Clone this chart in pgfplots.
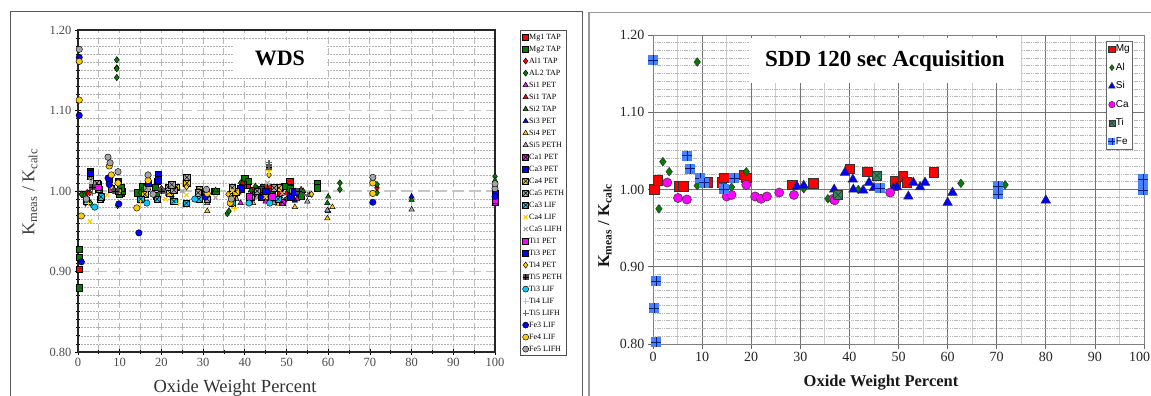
\documentclass[border=0pt]{standalone}
\usepackage{pgfplots}
\pgfplotsset{compat=1.18}
\usepackage{fontspec}
\setmainfont{Liberation Serif}
\newfontfamily\arialfont{Liberation Sans}
\usetikzlibrary{plotmarks}

\definecolor{wred}{RGB}{255,0,0}
\definecolor{wgreen}{RGB}{0,128,0}
\definecolor{wmag}{RGB}{255,0,255}
\definecolor{wblue}{RGB}{0,0,255}
\definecolor{wyel}{RGB}{255,204,0}
\definecolor{wgray}{RGB}{165,165,165}
\definecolor{wcyan}{RGB}{0,204,255}
\definecolor{titeal}{RGB}{46,139,87}
\definecolor{feblue}{RGB}{70,130,255}
\definecolor{fedark}{RGB}{0,30,120}

\pgfdeclareplotmark{sqx}{%
  \pgfpathrectangle{\pgfqpoint{-\pgfplotmarksize}{-\pgfplotmarksize}}{\pgfqpoint{2\pgfplotmarksize}{2\pgfplotmarksize}}%
  \pgfusepathqfillstroke
  \pgfpathmoveto{\pgfqpoint{-\pgfplotmarksize}{-\pgfplotmarksize}}%
  \pgfpathlineto{\pgfqpoint{\pgfplotmarksize}{\pgfplotmarksize}}%
  \pgfpathmoveto{\pgfqpoint{-\pgfplotmarksize}{\pgfplotmarksize}}%
  \pgfpathlineto{\pgfqpoint{\pgfplotmarksize}{-\pgfplotmarksize}}%
  \pgfusepathqstroke}
\pgfdeclareplotmark{sqplus}{%
  \pgfpathrectangle{\pgfqpoint{-\pgfplotmarksize}{-\pgfplotmarksize}}{\pgfqpoint{2\pgfplotmarksize}{2\pgfplotmarksize}}%
  \pgfusepathqfill
  \pgfpathmoveto{\pgfqpoint{-\pgfplotmarksize}{0pt}}%
  \pgfpathlineto{\pgfqpoint{\pgfplotmarksize}{0pt}}%
  \pgfpathmoveto{\pgfqpoint{0pt}{-\pgfplotmarksize}}%
  \pgfpathlineto{\pgfqpoint{0pt}{\pgfplotmarksize}}%
  \pgfusepathqstroke}

\pgfplotsset{
  wds/.style 2 args={only marks, mark=#1, mark size=3.2pt, mark options={solid, fill=#2, draw=black, line width=0.45pt}},
  wdsl/.style 2 args={only marks, mark=#1, mark size=3pt, mark options={solid, draw=#2, line width=1.1pt}},
  sdd/.style n args={3}{only marks, mark=#1, mark size=#3, mark options={solid, fill=#2, draw=black!80, line width=0.5pt}},
}

\begin{document}
\begin{tikzpicture}
\useasboundingbox (0pt,0pt) rectangle (1151pt,396pt);
\fill[white] (0pt,0pt) rectangle (1151pt,396pt);
% panel frames
\draw[black!65, line width=0.8pt] (10pt,-5pt) -- (10pt,385pt) -- (582pt,385pt) -- (582pt,-5pt);
\draw[black!40, line width=0.8pt] (589pt,384pt) -- (1160pt,384pt);
\draw[black!40, line width=2.2pt] (589pt,-5pt) -- (589pt,384pt);

% ---------------- LEFT: WDS ----------------
\begin{axis}[
  at={(78pt,44pt)}, anchor=south west, scale only axis, width=417pt, height=322pt,
  xmin=0, xmax=100, ymin=0.8, ymax=1.2,
  xtick={0,10,...,100}, ytick={0.8,0.9,1.0,1.1,1.2},
  minor x tick num=1, minor y tick num=9,
  grid=both,
  major x grid style={gray!55, line width=1pt, dash pattern=on 7pt off 4pt},
  minor x grid style={gray!55, line width=1pt, dash pattern=on 7pt off 4pt},
  major y grid style={gray!45, line width=1.6pt, dash pattern=on 12pt off 5pt},
  minor y grid style={gray!60, line width=0.7pt, dash pattern=on 1.5pt off 1.5pt},
  axis line style={black!85, line width=1.3pt},
  tick align=center, xtick pos=bottom, ytick pos=left,
  major tick length=6pt, minor tick length=4pt, tick style={black, line width=0.8pt},
  /pgf/number format/assume math mode=true,
  tick label style={font=\fontsize{12.5}{13}\selectfont, text=black!70},
  y tick label style={/pgf/number format/.cd, fixed, fixed zerofill, precision=2},
  legend cell align=left,
  legend style={at={(1.06,1)}, anchor=north west, draw=black!70, line width=1.2pt, fill=white,
    font=\fontsize{8}{9}\selectfont, inner sep=2pt, row sep=3pt,
    nodes={inner sep=0.5pt, text height=6pt, text depth=2pt}},
  legend image post style={scale=0.95},
]
\node[fill=white, minimum width=92pt, minimum height=37pt, font=\bfseries\fontsize{22}{22}\selectfont] at (rel axis cs:0.484,0.913) {WDS};

\addplot[wds={square*}{wred}] coordinates {(0.3,0.903) (10.3,0.998) (19,1.012) (32.6,1.000) (40.5,1.008) (44.5,1.004) (50.8,1.012) (53,0.997) (57.3,1.006) (42,1.001) (48.5,0.999)};
\addlegendentry{Mg1 TAP}
\addplot[wds={square*}{wgreen}] coordinates {(0.3,0.928) (0.3,0.918) (0.3,0.880) (1.5,0.996) (9.9,0.996) (10.5,1.000) (14.2,0.998) (15.5,1.006) (18.5,1.005) (18.8,0.994) (30.5,0.996) (33,1.000) (40,1.016) (40.8,1.012) (45,0.996) (48,1.004) (50.8,1.003) (57.3,1.010) (57.3,1.004) (10.2,1.004) (16,1.001) (39.5,1.008) (42.5,0.996) (44,1.002) (46.5,0.998) (49.5,1.006) (53.5,0.994)};
\addlegendentry{Mg2 TAP}
\addplot[wds={diamond*}{wred}] coordinates {(9.3,1.153) (2.2,0.998) (20,1.003) (38,0.995) (46,1.002) (71.7,1.004)};
\addlegendentry{Al1 TAP}
\addplot[wds={diamond*}{wgreen}] coordinates {(9.3,1.163) (9.3,1.152) (9.3,1.141) (1.8,0.985) (3,0.985) (5.5,0.990) (15,0.998) (22.5,0.993) (35.8,0.972) (39,1.010) (47,0.995) (62.8,1.010) (62.8,1.002) (71.7,1.008) (71.7,0.998) (100,1.018) (0.8,0.996) (2.8,0.998) (9.5,0.982) (36.2,0.975)};
\addlegendentry{AL2 TAP}
\addplot[wds={triangle*}{wmag}] coordinates {(39,0.985) (45,0.987) (49.5,0.988) (52.5,0.990) (100,0.990)};
\addlegendentry{Si1 PET}
\addplot[wds={triangle*}{wred}] coordinates {(2.5,0.997) (31,1.002) (39.5,1.010) (43,1.003) (46,1.005) (50,0.997) (53.5,1.002)};
\addlegendentry{Si1 TAP}
\addplot[wds={triangle*}{wgreen}] coordinates {(31,0.995) (38.5,0.998) (41.5,1.001) (44.5,0.997) (47,1.003) (50,0.990) (54,1.000) (59.8,0.985) (60,0.993) (80,0.989) (100,1.013) (33,1.001) (42.5,1.006) (48.5,0.993)};
\addlegendentry{Si2 TAP}
\addplot[wds={triangle*}{wblue}] coordinates {(41,0.994) (46,0.990) (52,0.988) (55.5,0.995) (60,0.975) (80,0.993)};
\addlegendentry{Si3 PET}
\addplot[wds={triangle*}{wyel}] coordinates {(31,0.975) (37,0.987) (42,0.985) (48,0.984) (52,0.980) (59.8,0.966) (61,0.980)};
\addlegendentry{Si4 PET}
\addplot[wds={triangle*}{wgray}] coordinates {(31,0.985) (38,0.990) (43,0.993) (47,0.985) (51,0.992) (55,0.987) (59.8,0.976) (80,0.977) (100,1.006)};
\addlegendentry{Si5 PETH}
\addplot[wds={sqx}{wmag}] coordinates {(4.8,1.008) (16.5,1.005) (41,0.987) (49,0.986) (100,0.986)};
\addlegendentry{Ca1 PET}
\addplot[wds={square*}{wblue}] coordinates {(2.9,1.024) (9.7,1.012) (19.2,1.020) (39,1.003) (44,0.992) (51,0.993)};
\addlegendentry{Ca3 PET}
\addplot[wds={sqx}{wyel}] coordinates {(5.3,0.990) (9.7,1.000) (16,0.996) (22,0.998) (26.1,1.010) (29,1.002) (37,0.993) (48.2,1.004) (23.5,1.005) (37.8,0.999)};
\addlegendentry{Ca4 PET}
\addplot[wds={sqx}{wgray}] coordinates {(2.9,1.018) (5,1.002) (16.5,1.004) (21.6,1.005) (23,1.001) (26.1,1.017) (28.8,0.998) (37,1.004) (43,1.000) (47,1.004) (4.5,1.010) (22.5,1.008) (31,0.990) (41.5,0.992) (51.5,1.000)};
\addlegendentry{Ca5 PETH}
\addplot[wds={sqx}{wcyan}] coordinates {(2,0.988) (5.5,0.993) (15,0.990) (19,0.990) (23,0.987) (26,0.985) (29,0.990) (37,0.985) (48,0.990)};
\addlegendentry{Ca3 LIF}
\addplot[wdsl={x}{wyel}] coordinates {(2.9,0.962) (7,0.995) (21,0.990) (26,0.995) (37,1.000) (45,0.993)};
\addlegendentry{Ca4 LIF}
\addplot[wdsl={x}{wgray}] coordinates {(3.1,1.012) (7.5,1.010) (17,1.002) (25,1.000) (33,0.992) (45.5,1.010) (49,0.997)};
\addlegendentry{Ca5 LIFH}
\addplot[wds={square*}{wmag}] coordinates {(4.8,1.005) (8,1.003) (41,0.993) (46.5,0.993) (100,0.989)};
\addlegendentry{Ti1 PET}
\addplot[wds={square*}{wblue}] coordinates {(2.9,1.022) (7.5,1.015) (16.8,1.010) (19.2,1.014) (45,1.000) (52,0.999) (100,0.997)};
\addlegendentry{Ti3 PET}
\addplot[wds={diamond*}{wyel}] coordinates {(8,1.005) (26,1.005) (36,0.996) (45.8,1.020) (56,0.996)};
\addlegendentry{Ti4 PET}
\addplot[wds={sqplus}{black!70}] coordinates {(3.5,1.005) (9,1.000) (20,1.000) (45.8,1.030) (53,1.000)};
\addlegendentry{Ti5 PETH}
\addplot[wds={*}{wcyan}] coordinates {(4,0.980) (16.5,0.985) (28,0.990) (41,0.985) (46,0.985)};
\addlegendentry{Ti3 LIF}
\addplot[wdsl={+}{wyel}] coordinates {(2.5,0.985) (15,0.985) (24,0.985) (37.5,0.978) (45.8,1.025)};
\addlegendentry{Ti4 LIF}
\addplot[wdsl={+}{black!60}] coordinates {(3.5,0.997) (21,0.997) (30,0.993) (45.8,1.035) (45.8,1.030) (55,0.995)};
\addlegendentry{Ti5 LIFH}
\addplot[wds={*}{wblue}] coordinates {(0.3,1.166) (0.3,1.094) (0.8,0.912) (7.2,1.016) (7.5,1.008) (9.8,0.984) (14.6,0.948) (30.5,0.993) (70.7,0.986) (100,0.993)};
\addlegendentry{Fe3 LIF}
\addplot[wds={*}{wyel}] coordinates {(0.3,1.161) (0.3,1.113) (0.8,0.969) (7.5,1.031) (8,1.020) (9.6,1.010) (14.1,0.979) (16.8,1.013) (70.7,1.010) (70.7,0.997) (31,0.997) (36.5,0.985)};
\addlegendentry{Fe4 LIF}
\addplot[wds={*}{wgray}] coordinates {(0.3,1.176) (2,0.990) (7.2,1.042) (7.7,1.035) (9.6,1.024) (16.8,1.020) (18,0.996) (70.7,1.017) (100,1.003) (100,1.009) (30.8,1.002) (36.8,0.990)};
\addlegendentry{Fe5 LIFH}
\end{axis}

% ---------------- RIGHT: SDD ----------------
\begin{axis}[
  at={(653pt,52pt)}, anchor=south west, scale only axis, width=491pt, height=309pt,
  xmin=0, xmax=100, ymin=0.8, ymax=1.2,
  xtick={0,10,...,100}, ytick={0.8,0.9,1.0,1.1,1.2},
  xticklabels={0,10,20,30,40,50,60,70,80,90,{\makebox[12pt][r]{100}}},
  minor x tick num=1, minor y tick num=9,
  grid=both,
  major grid style={black!55, line width=0.8pt},
  minor x grid style={black!20, line width=0.8pt},
  minor y grid style={black!28, line width=0.8pt, dash pattern=on 1.2pt off 0.6pt},
  axis line style={black!50, line width=0.8pt},
  tick align=outside, xtick pos=bottom, ytick pos=left,
  major tick length=5pt, minor tick length=0pt, tick style={black!60, line width=0.8pt},
  /pgf/number format/assume math mode=true,
  tick label style={font=\fontsize{14}{15}\selectfont, text=black!85},
  y tick label style={/pgf/number format/.cd, fixed, fixed zerofill, precision=2},
  legend cell align=left,
  legend style={at={(0.9226,0.9806)}, anchor=north west, draw=black!60, line width=0.8pt, fill=white,
    font=\arialfont\fontsize{10}{11}\selectfont, inner sep=2pt, row sep=7pt,
    nodes={inner sep=0.5pt, text height=8pt, text depth=2.5pt}},
  legend image post style={scale=0.7},
]
\node[fill=white, minimum width=272pt, minimum height=45pt, font=\bfseries\fontsize{23}{23}\selectfont] at (rel axis cs:0.4725,0.916) {SDD 120 sec Acquisition};

\addplot[sdd={square*}{wred}{4.8pt}] coordinates {(0.2,1.000) (1.0,1.012) (5.3,1.004) (6.1,1.004) (11,1.009) (14,1.009) (14.5,1.015) (18.5,1.019) (19,1.015) (28.3,1.006) (32.6,1.008) (40.1,1.027) (43.6,1.023) (49.3,1.011) (50.9,1.017) (51.7,1.009) (57.2,1.022)};
\addlegendentry{Mg}
\addplot[sdd={diamond*}{wgreen}{4.3pt}] coordinates {(9,1.165) (2,1.036) (3.3,1.023) (1.2,0.975) (19,1.023) (16,1.003) (9,1.005) (30.7,1.001) (35.6,0.988) (41.8,1.000) (62.7,1.008) (71.7,1.006)};
\addlegendentry{Al}
\addplot[sdd={triangle*}{wblue}{5.5pt}] coordinates {(29.3,1.004) (30.7,1.005) (36.9,1.000) (39.1,1.022) (40.7,1.013) (40.8,1.000) (42.8,0.999) (44,1.009) (45,1.002) (49,1.002) (49.7,1.003) (52,0.991) (53,1.009) (54.4,1.003) (55.4,1.009) (60,0.983) (61,0.996) (80,0.986)};
\addlegendentry{Si}
\addplot[sdd={*}{wmag}{4.6pt}] coordinates {(2.9,1.009) (5.1,0.989) (6.9,0.987) (15,0.991) (16,0.993) (19,1.006) (20.8,0.991) (22,0.988) (23.2,0.991) (25.7,0.996) (28.7,0.993) (36.7,0.988) (37,0.986) (48.3,0.996)};
\addlegendentry{Ca}
\addplot[sdd={sqx}{titeal}{4.5pt}] coordinates {(45.6,1.018) (37.7,0.993)};
\addlegendentry{Ti}
\addplot[only marks, mark=sqplus, mark size=5pt, mark options={solid, fill=feblue, draw=fedark, line width=0.6pt}] coordinates {(0,1.167) (7,1.044) (7.5,1.027) (9.6,1.015) (10.4,1.009) (14.4,1.000) (16.5,1.015) (46.2,1.002) (70.3,1.004) (70.3,0.994) (99.8,1.013) (99.8,1.006) (99.8,0.999) (0.6,0.881) (0.2,0.846) (0.6,0.802)};
\addlegendentry{Fe}
\end{axis}

% axis titles
\node[rotate=90, text=black!75, font=\fontsize{18}{18}\selectfont] at (30pt,204pt) {K\textsubscript{meas} / K\textsubscript{calc}};
\node[anchor=base, text=black!80, font=\fontsize{18.5}{18.5}\selectfont] at (235pt,3pt) {Oxide Weight Percent};
\node[rotate=90, text=black!90, font=\bfseries\fontsize{16.5}{16.5}\selectfont] at (605pt,170pt) {K\textsubscript{meas} / K\textsubscript{calc}};
\node[anchor=base, text=black!90, font=\bfseries\fontsize{16.5}{16.5}\selectfont] at (881pt,9pt) {Oxide Weight Percent};
\end{tikzpicture}
\end{document}
